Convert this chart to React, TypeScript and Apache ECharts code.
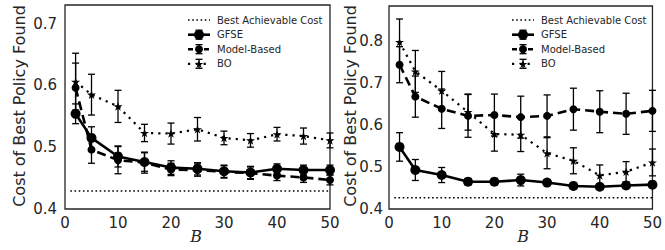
import React, { useEffect, useRef } from "react";
import * as echarts from "echarts";

const B = [2, 5, 10, 15, 20, 25, 30, 35, 40, 45, 50];

// Left panel
const gfseL = [0.554, 0.515, 0.485, 0.476, 0.467, 0.465, 0.461, 0.459, 0.465, 0.463, 0.463];
const gfseLErr = [0.016, 0.018, 0.017, 0.015, 0.011, 0.01, 0.01, 0.01, 0.008, 0.008, 0.008];
const mbL = [0.596, 0.496, 0.479, 0.475, 0.464, 0.463, 0.46, 0.458, 0.454, 0.451, 0.447];
const mbLErr = [0.04, 0.022, 0.022, 0.017, 0.01, 0.01, 0.01, 0.01, 0.008, 0.008, 0.008];
const boL = [0.606, 0.585, 0.566, 0.523, 0.522, 0.529, 0.515, 0.511, 0.521, 0.518, 0.511];
const boLErr = [0.046, 0.033, 0.026, 0.014, 0.017, 0.019, 0.011, 0.011, 0.011, 0.013, 0.012];
const bestL = 0.429;

// Right panel
const gfseR = [0.548, 0.493, 0.481, 0.465, 0.465, 0.469, 0.463, 0.455, 0.453, 0.456, 0.458];
const gfseRErr = [0.034, 0.025, 0.018, 0.008, 0.008, 0.014, 0.007, 0.006, 0.006, 0.006, 0.006];
const mbR = [0.744, 0.668, 0.639, 0.622, 0.624, 0.619, 0.622, 0.638, 0.632, 0.627, 0.634];
const mbRErr = [0.043, 0.049, 0.047, 0.051, 0.05, 0.05, 0.05, 0.05, 0.05, 0.049, 0.049];
const boR = [0.798, 0.728, 0.682, 0.631, 0.579, 0.577, 0.533, 0.515, 0.48, 0.489, 0.511];
const boRErr = [0.055, 0.05, 0.046, 0.043, 0.041, 0.04, 0.037, 0.031, 0.025, 0.024, 0.032];
const bestR = 0.427;

const bestRange = [1, 50];
const names = ["Best Achievable Cost", "GFSE", "Model-Based", "BO"];
const yTitle = "Cost of Best Policy Found";
const xTitle = "B";

const TXT = "#262626";
const FONT = "DejaVu Sans";
const STAR =
  "path://M50,0 L61.2,34.5 L97.6,34.5 L68.2,55.9 L79.4,90.5 L50,69.1 L20.6,90.5 L31.8,55.9 L2.4,34.5 L38.8,34.5 Z";
const STAR_PTS = [
  [0, -1], [0.2245, -0.309], [0.951, -0.309], [0.363, 0.118], [0.588, 0.809],
  [0, 0.382], [-0.588, 0.809], [-0.363, 0.118], [-0.951, -0.309], [-0.2245, -0.309],
];

function pts(vals: number[]) {
  return B.map((b, i) => [b, vals[i]]);
}
function errs(vals: number[], e: number[]) {
  return B.map((b, i) => [b, vals[i] - e[i], vals[i] + e[i]]);
}

const renderErr = (params: any, api: any) => {
  const x = api.value(0);
  const lo = api.coord([x, api.value(1)]);
  const hi = api.coord([x, api.value(2)]);
  const cap = 3.5;
  const style = { stroke: "#000", lineWidth: 1.3, fill: "none" };
  return {
    type: "group",
    children: [
      { type: "line", shape: { x1: lo[0], y1: lo[1], x2: hi[0], y2: hi[1] }, style },
      { type: "line", shape: { x1: lo[0] - cap, y1: lo[1], x2: lo[0] + cap, y2: lo[1] }, style },
      { type: "line", shape: { x1: hi[0] - cap, y1: hi[1], x2: hi[0] + cap, y2: hi[1] }, style },
    ],
  };
};

function panelSeries(idx: number, g: number[], ge: number[], m: number[], me: number[], b: number[], be: number[], best: number) {
  const ax = { xAxisIndex: idx, yAxisIndex: idx };
  return [
    {
      ...ax,
      type: "line",
      data: bestRange.map((x) => [x, best]),
      symbol: "none",
      lineStyle: { color: "#000", width: 1.6, type: [1.6, 2.6] },
      z: 2,
    },
    { ...ax, type: "custom", renderItem: renderErr, data: errs(b, be), encode: { x: 0, y: [1, 2] }, z: 3 },
    { ...ax, type: "custom", renderItem: renderErr, data: errs(m, me), encode: { x: 0, y: [1, 2] }, z: 3 },
    { ...ax, type: "custom", renderItem: renderErr, data: errs(g, ge), encode: { x: 0, y: [1, 2] }, z: 3 },
    {
      ...ax,
      type: "line",
      data: pts(b),
      symbol: STAR,
      symbolSize: 9,
      symbolKeepAspect: true,
      lineStyle: { color: "#000", width: 2.2, type: [2.2, 5] },
      itemStyle: { color: "#000" },
      z: 4,
    },
    {
      ...ax,
      type: "line",
      data: pts(m),
      symbol: "circle",
      symbolSize: 8,
      lineStyle: { color: "#000", width: 2.6, type: [9, 5] },
      itemStyle: { color: "#000" },
      z: 5,
    },
    {
      ...ax,
      type: "line",
      data: pts(g),
      symbol: "circle",
      symbolSize: 10,
      lineStyle: { color: "#000", width: 2.6 },
      itemStyle: { color: "#000" },
      z: 6,
    },
  ];
}

function legendGraphics(L: number, textX: number) {
  const rows = [20, 34.7, 49.2, 63.8];
  const W = 22;
  const cx = L + W / 2;
  const out: any[] = [];
  const errBar = (y: number, h: number) => {
    const s = { stroke: "#000", lineWidth: 1.3 };
    out.push({ type: "line", shape: { x1: cx, y1: y - h, x2: cx, y2: y + h }, style: s, z: 110 });
    out.push({ type: "line", shape: { x1: cx - 3.5, y1: y - h, x2: cx + 3.5, y2: y - h }, style: s, z: 110 });
    out.push({ type: "line", shape: { x1: cx - 3.5, y1: y + h, x2: cx + 3.5, y2: y + h }, style: s, z: 110 });
  };
  out.push({ type: "line", shape: { x1: L, y1: rows[0], x2: L + W, y2: rows[0] }, style: { stroke: "#000", lineWidth: 1.6, lineDash: [1.6, 2.6] }, z: 110 });
  out.push({ type: "line", shape: { x1: L, y1: rows[1], x2: L + W, y2: rows[1] }, style: { stroke: "#000", lineWidth: 2.6 }, z: 110 });
  errBar(rows[1], 4.5);
  out.push({ type: "circle", shape: { cx, cy: rows[1], r: 5 }, style: { fill: "#000" }, z: 111 });
  out.push({ type: "line", shape: { x1: L, y1: rows[2], x2: L + W, y2: rows[2] }, style: { stroke: "#000", lineWidth: 2.6, lineDash: [5, 3] }, z: 110 });
  errBar(rows[2], 4.5);
  out.push({ type: "circle", shape: { cx, cy: rows[2], r: 4 }, style: { fill: "#000" }, z: 111 });
  out.push({ type: "line", shape: { x1: L, y1: rows[3], x2: L + W, y2: rows[3] }, style: { stroke: "#000", lineWidth: 2.2, lineDash: [2.2, 5.6] }, z: 110 });
  errBar(rows[3], 4.5);
  out.push({ type: "polygon", shape: { points: STAR_PTS.map(([px, py]) => [cx + px * 4.5, rows[3] + py * 4.5 + 0.6]) }, style: { fill: "#000" }, z: 111 });
  names.forEach((n, i) => {
    out.push({
      type: "text",
      x: textX,
      y: rows[i],
      style: { text: n, fill: TXT, fontSize: 10, fontFamily: FONT, align: "left", verticalAlign: "middle" },
      z: 111,
    });
  });
  return out;
}

export default function App() {
  const ref = useRef<HTMLDivElement>(null);
  useEffect(() => {
    if (!ref.current) return;
    const chart = echarts.init(ref.current, undefined, { renderer: "svg" });
    const xAxisBase = {
      type: "value",
      min: 0,
      max: 50,
      interval: 10,
      axisLine: { show: false },
      axisTick: { show: false },
      splitLine: { show: false },
      axisLabel: { color: TXT, fontSize: 15, fontFamily: FONT, margin: 6 },
    };
    const yAxisBase = {
      type: "value",
      min: 0.4,
      interval: 0.1,
      axisLine: { show: false },
      axisTick: { show: false },
      splitLine: { show: false },
    };
    const titleStyle = { fill: TXT, fontSize: 16, fontFamily: FONT, align: "center", verticalAlign: "middle" };
    const bStyle = { fill: TXT, fontSize: 16, fontFamily: "DejaVu Serif", fontStyle: "italic", align: "center", verticalAlign: "middle" };
    chart.setOption({
      animation: false,
      grid: [
        { left: 65, right: 335, top: 5, bottom: 41, show: true, borderColor: TXT, borderWidth: 1.3, backgroundColor: "transparent" },
        { left: 389, right: 10, top: 6, bottom: 41, show: true, borderColor: TXT, borderWidth: 1.3, backgroundColor: "transparent" },
      ],
      xAxis: [
        { ...xAxisBase, gridIndex: 0 },
        { ...xAxisBase, gridIndex: 1 },
      ],
      yAxis: [
        {
          ...yAxisBase,
          gridIndex: 0,
          max: 0.73,
          axisLabel: { color: TXT, fontSize: 15, fontFamily: FONT, margin: 8, showMaxLabel: false, formatter: (v: number) => v.toFixed(1) },
        },
        {
          ...yAxisBase,
          gridIndex: 1,
          max: 0.884,
          axisLabel: { color: TXT, fontSize: 15, fontFamily: FONT, margin: 6, showMaxLabel: false, formatter: (v: number) => v.toFixed(1) },
        },
      ],
      graphic: [
        { type: "text", x: 19, y: 106, rotation: Math.PI / 2, style: { text: yTitle, ...titleStyle } },
        { type: "text", x: 350, y: 106, rotation: Math.PI / 2, style: { text: yTitle, ...titleStyle } },
        { type: "text", x: 196, y: 236, style: { text: xTitle, ...bStyle } },
        { type: "text", x: 523, y: 236, style: { text: xTitle, ...bStyle } },
        ...legendGraphics(188, 217),
        ...legendGraphics(512, 541),
      ],
      series: [
        ...panelSeries(0, gfseL, gfseLErr, mbL, mbLErr, boL, boLErr, bestL),
        ...panelSeries(1, gfseR, gfseRErr, mbR, mbRErr, boR, boRErr, bestR),
      ],
    });
    return () => chart.dispose();
  }, []);
  return <div ref={ref} style={{ width: 665, height: 250, position: "absolute", left: 0, top: 0 }} />;
}
